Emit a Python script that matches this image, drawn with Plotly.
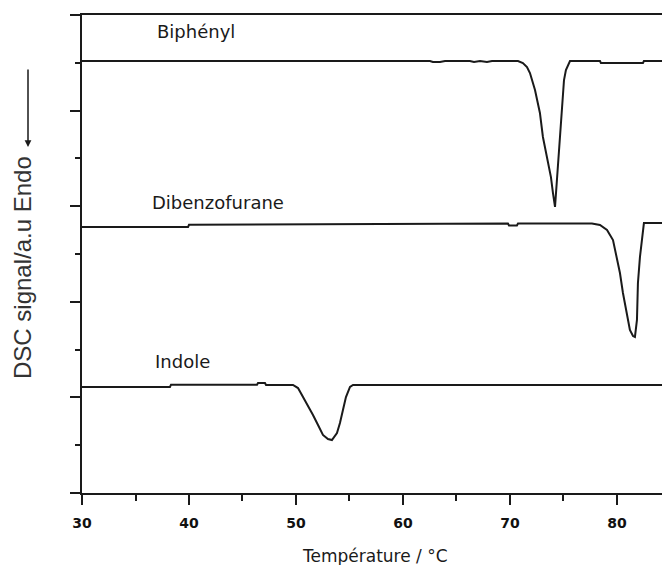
import plotly.graph_objects as go

# ---- data (temperature in °C, DSC signal in arbitrary units) ----
biphenyl_T = [30.00, 62.52, 62.80, 63.46, 63.93, 66.26, 66.64, 67.20, 67.85, 68.32,
              70.75, 71.21, 71.59, 71.87, 72.34, 72.80, 73.08, 73.46, 73.83, 74.02,
              74.21, 74.39, 74.58, 74.86, 75.05, 75.23, 75.61, 78.41, 78.50, 82.43,
              82.52, 84.21]
biphenyl_S = [4.519, 4.519, 4.508, 4.508, 4.519, 4.519, 4.508, 4.519, 4.508, 4.519,
              4.519, 4.498, 4.456, 4.393, 4.215, 3.975, 3.724, 3.515, 3.305, 3.138,
              2.992, 3.274, 3.588, 4.006, 4.320, 4.425, 4.519, 4.519, 4.498, 4.498,
              4.519, 4.519]

dibenzofurane_T = [30.00, 39.91, 40.00, 69.81, 69.91, 70.65, 70.75, 77.66, 78.41, 79.07,
                   79.63, 80.00, 80.28, 80.56, 80.93, 81.21, 81.50, 81.68, 81.87, 81.96,
                   82.15, 82.34, 82.52, 84.21]
dibenzofurane_S = [2.782, 2.782, 2.806, 2.819, 2.798, 2.798, 2.819, 2.819, 2.803, 2.751,
                   2.646, 2.469, 2.301, 2.092, 1.883, 1.705, 1.642, 1.632, 1.810, 2.197,
                   2.469, 2.678, 2.824, 2.824]

indole_T = [30.00, 38.22, 38.32, 46.36, 46.45, 47.10, 47.20, 49.72, 50.19, 50.65,
            51.12, 51.59, 52.06, 52.52, 52.99, 53.36, 53.83, 54.11, 54.39, 54.67,
            55.05, 55.33, 84.21]
indole_S = [1.109, 1.109, 1.133, 1.133, 1.151, 1.151, 1.130, 1.130, 1.098, 1.004,
            0.921, 0.816, 0.711, 0.607, 0.565, 0.554, 0.628, 0.732, 0.868, 1.004,
            1.109, 1.130, 1.130]

series_names = ["Biphényl", "Dibenzofurane", "Indole"]
x_ticks = [30, 40, 50, 60, 70, 80]
x_tick_labels = ["30", "40", "50", "60", "70", "80"]

# ---- figure ----
fig = go.Figure()
for T, S, name in [(biphenyl_T, biphenyl_S, series_names[0]),
                   (dibenzofurane_T, dibenzofurane_S, series_names[1]),
                   (indole_T, indole_S, series_names[2])]:
    fig.add_trace(go.Scatter(x=T, y=S, mode="lines", name=name,
                             line=dict(color="#1a1a1a", width=2), showlegend=False))

W, H = 662, 565
ml, mr, mt, mb = 82, 0, 15, 72
pw, ph = W - ml - mr, H - mt - mb


def px(xp):
    return (xp - ml) / pw


def py(yp):
    return (H - mb - yp) / ph


fig.update_layout(
    width=W, height=H,
    margin=dict(l=ml, r=mr, t=mt, b=mb, pad=0),
    paper_bgcolor="white", plot_bgcolor="white",
    xaxis=dict(range=[30, 84.21], showgrid=False, zeroline=False,
               showline=True, linecolor="#1a1a1a", linewidth=2, mirror=True,
               ticks="outside", ticklen=10, tickwidth=2, tickcolor="#1a1a1a",
               tickvals=x_ticks, ticktext=x_tick_labels,
               tickfont=dict(family="DejaVu Sans", size=14, color="#111111", weight="bold"),
               ticklabelstandoff=6,
               minor=dict(ticks="outside", ticklen=6, tickwidth=2, tickcolor="#1a1a1a",
                          dtick=5, tick0=30, showgrid=False)),
    yaxis=dict(range=[0, 5], showgrid=False, zeroline=False,
               showline=True, linecolor="#1a1a1a", linewidth=2, mirror=False,
               ticks="outside", ticklen=10, tickwidth=2, tickcolor="#1a1a1a",
               dtick=1, tick0=0, showticklabels=False,
               minor=dict(ticks="outside", ticklen=5, tickwidth=2, tickcolor="#1a1a1a",
                          dtick=0.5, tick0=0, showgrid=False)),
)

label_font = dict(family="DejaVu Sans", size=18, color="#1a1a1a")
fig.add_annotation(x=px(155), y=py(32), xref="paper", yref="paper", text=series_names[0],
                   showarrow=False, xanchor="left", yanchor="middle", font=label_font)
fig.add_annotation(x=px(150), y=py(202), xref="paper", yref="paper", text=series_names[1],
                   showarrow=False, xanchor="left", yanchor="middle", font=label_font)
fig.add_annotation(x=px(153), y=py(361), xref="paper", yref="paper", text=series_names[2],
                   showarrow=False, xanchor="left", yanchor="middle", font=label_font)

# axis titles
fig.add_annotation(x=px(375), y=py(556), xref="paper", yref="paper",
                   text="Température / °C", showarrow=False,
                   xanchor="center", yanchor="middle",
                   font=dict(family="DejaVu Sans", size=17, color="#1a1a1a"))
fig.add_annotation(x=px(22), y=py(268), xref="paper", yref="paper",
                   text="DSC signal/a.u Endo", showarrow=False, textangle=-90,
                   xanchor="center", yanchor="middle",
                   font=dict(family="Liberation Sans", size=24, color="#333333"))
# arrow pointing down (endothermic direction)
fig.add_annotation(x=px(28), y=py(147), xref="paper", yref="paper",
                   ax=0, ay=-79, text="", showarrow=True,
                   arrowhead=2, arrowsize=0.9, arrowwidth=1.5, arrowcolor="#1a1a1a")

fig.write_html("out.html")
